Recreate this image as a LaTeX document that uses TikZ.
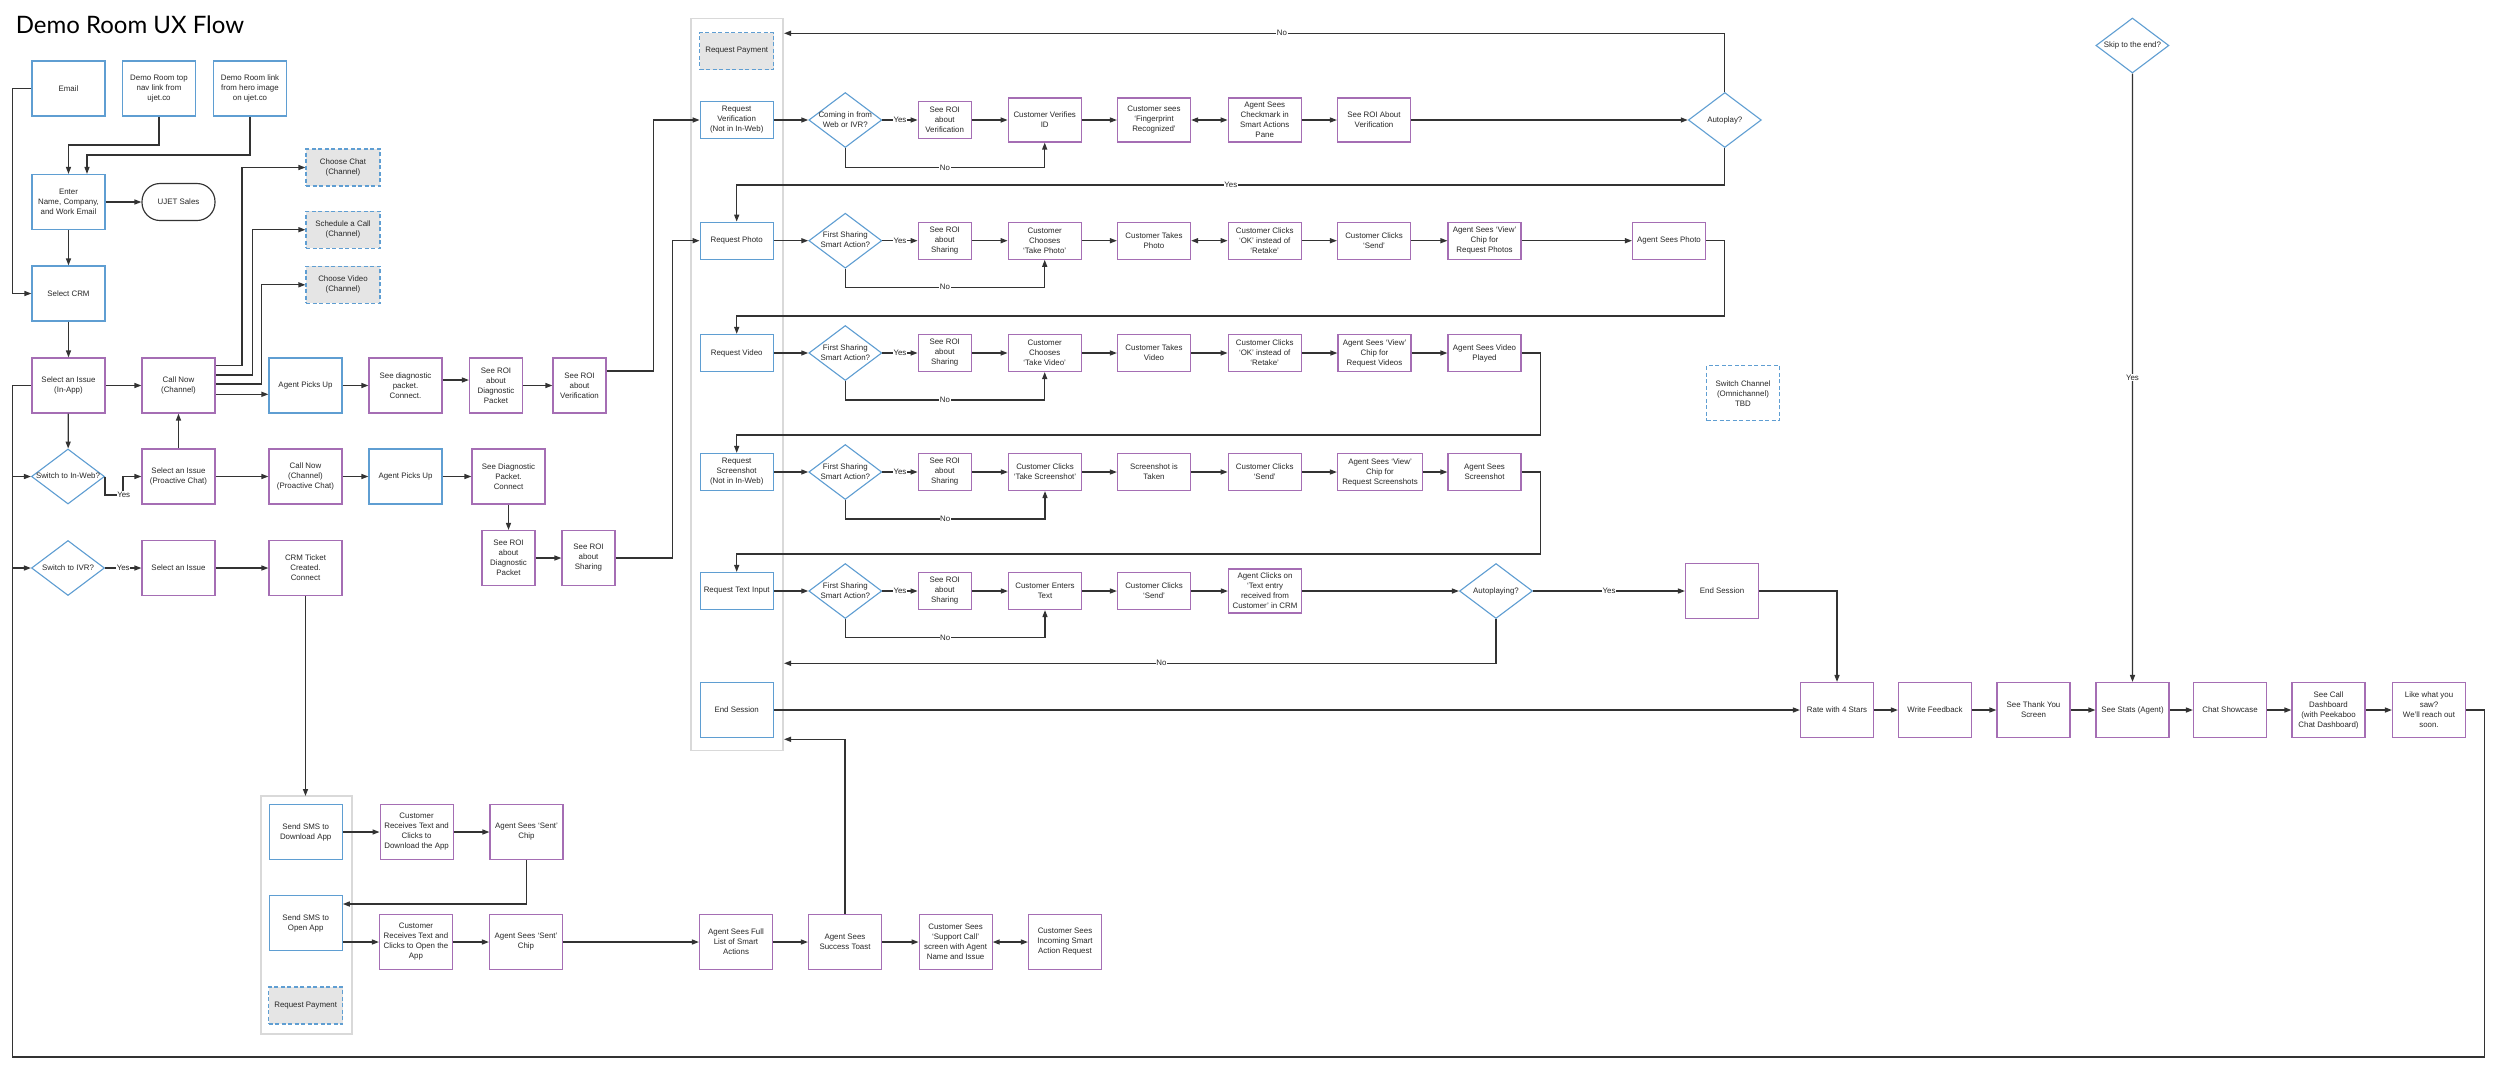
\documentclass[tikz,border=0pt]{standalone}
\usepackage{fontspec}
\setmainfont{Liberation Sans}
\newfontfamily\titlefont{Lato}
\usetikzlibrary{shapes.geometric,arrows.meta,calc}
\definecolor{bl}{RGB}{95,158,210}
\definecolor{pu}{RGB}{165,110,180}
\definecolor{gr}{RGB}{229,229,229}
\definecolor{lanec}{RGB}{217,217,217}
\definecolor{ln}{RGB}{51,51,51}
\definecolor{txt}{RGB}{40,40,40}
\newcommand{\mydtext}[1]{\makebox[0pt]{\begin{tabular}{@{}c@{}}#1\end{tabular}}}
\newcommand{\myfs}{\fontsize{7.9}{10}\selectfont}
\tikzset{
 boxbase/.style={rectangle, line width=1.15pt, fill=white, align=center, inner sep=1pt,
   minimum width=73pt, minimum height=55pt, text=txt, font=\myfs},
 bbox/.style={boxbase, draw=bl},
 pbox/.style={boxbase, draw=pu},
 dbox/.style={boxbase, draw=bl, fill=gr, dash pattern=on 4pt off 2.5pt, minimum width=74pt, minimum height=37pt},
 dboxw/.style={dbox, fill=white, minimum width=73pt, minimum height=55pt},
 stad/.style={boxbase, draw=ln, rounded corners=18pt, minimum height=37pt},
 diam/.style={diamond, draw=bl, line width=1.1pt, fill=white, minimum width=73pt, minimum height=55pt,
   inner sep=0pt, text=txt, font=\myfs},
 lane/.style={draw=lanec, line width=1.2pt},
 lineonly/.style={draw=ln, line width=1.3pt},
 conn/.style={lineonly, -{Triangle[length=7pt,width=5pt]}},
 dconn/.style={lineonly, {Triangle[length=7pt,width=5pt]}-{Triangle[length=7pt,width=5pt]}},
 lab/.style={fill=white, inner sep=0.6pt, text=txt, font=\myfs},
}
\begin{document}
\begin{tikzpicture}[x=1pt,y=-1pt]
\fill[white] (0,0) rectangle (2500,1080);
\useasboundingbox (0,0) rectangle (2500,1080);

% title
\node[anchor=base west, inner sep=0pt, font=\titlefont\fontsize{24}{28}\selectfont, text=black] (title) at (15.6,33) {Demo Room UX Flow};

% lanes
\draw[lane] (691,18.3) rectangle (783,750.7);
\draw[lane] (261,796) rectangle (352,1034);

% ---------- left region ----------
\node[bbox] (email) at (68.5,88.5) {Email};
\node[bbox] (nav) at (159,88.5) {Demo Room top\\nav link from\\ujet.co};
\node[bbox] (hero) at (250,88.5) {Demo Room link\\from hero image\\on ujet.co};
\node[bbox] (enter) at (68.5,202) {Enter\\Name, Company,\\and Work Email};
\node[stad] (sales) at (178.5,202) {UJET Sales};
\node[bbox] (crm) at (68.5,293.5) {Select CRM};
\node[dbox] (chat) at (343,167.5) {Choose Chat\\(Channel)};
\node[dbox] (sched) at (343,229.7) {Schedule a Call\\(Channel)};
\node[dbox] (video) at (343,284.8) {Choose Video\\(Channel)};
\node[pbox] (issue) at (68.5,385.5) {Select an Issue\\(In-App)};
\node[pbox] (callnow) at (178.5,385.5) {Call Now\\(Channel)};
\node[bbox] (agent1) at (305.5,385.5) {Agent Picks Up};
\node[pbox] (diag1) at (405.5,385.5) {See diagnostic\\packet.\\Connect.};
\node[pbox, minimum width=53pt] (roid1) at (496,385.5) {See ROI\\about\\Diagnostic\\Packet};
\node[pbox, minimum width=53pt] (roiv1) at (579.5,385.5) {See ROI\\about\\Verification};
\node[diam] (sw1) at (68,476.5) {\mydtext{Switch to In-Web?}};
\node[pbox] (issuep) at (178.5,476.5) {Select an Issue\\(Proactive Chat)};
\node[pbox] (callp) at (305.5,476.5) {Call Now\\(Channel)\\(Proactive Chat)};
\node[bbox] (agent2) at (405.5,476.5) {Agent Picks Up};
\node[pbox] (diag2) at (508.5,476.5) {See Diagnostic\\Packet.\\Connect};
\node[pbox, minimum width=53pt] (roid2) at (508.5,558) {See ROI\\about\\Diagnostic\\Packet};
\node[pbox, minimum width=53pt] (rois2) at (588.5,558) {See ROI\\about\\Sharing};
\node[diam] (sw2) at (68,568) {\mydtext{Switch to IVR?}};
\node[pbox] (issue3) at (178.5,568) {Select an Issue};
\node[pbox] (ticket) at (305.5,568) {CRM Ticket\\Created.\\Connect};

% ---------- bottom group ----------
\node[bbox] (smsdl) at (305.7,832) {Send SMS to\\Download App};
\node[pbox] (recdl) at (416.6,832) {Customer\\Receives Text and\\Clicks to\\Download the App};
\node[pbox] (sent1) at (526.5,832) {Agent Sees `Sent'\\Chip};
\node[bbox] (smsop) at (305.7,923.3) {Send SMS to\\Open App};
\node[pbox] (recop) at (416,942) {Customer\\Receives Text and\\Clicks to Open the\\App};
\node[pbox] (sent2) at (526,942) {Agent Sees `Sent'\\Chip};
\node[dbox] (pay2) at (305.7,1005.5) {Request Payment};
\node[pbox] (fulllist) at (736,942) {Agent Sees Full\\List of Smart\\Actions};
\node[pbox] (toast) at (845,942) {Agent Sees\\Success Toast};
\node[pbox] (support) at (955.6,942) {Customer Sees\\`Support Call'\\screen with Agent\\Name and Issue};
\node[pbox] (incoming) at (1065,942) {Customer Sees\\Incoming Smart\\Action Request};

% ---------- column ----------
\node[dbox] (pay1) at (736.7,51) {Request Payment};
\node[bbox, minimum height=37pt] (rverif) at (736.7,120) {Request\\Verification\\(Not in In-Web)};
\node[bbox, minimum height=37pt] (rphoto) at (736.7,240.7) {Request Photo};
\node[bbox, minimum height=37pt] (rvideo) at (736.7,353) {Request Video};
\node[bbox, minimum height=37pt] (rshot) at (736.7,472) {Request\\Screenshot\\(Not in In-Web)};
\node[bbox, minimum height=37pt] (rtext) at (736.7,591) {Request Text Input};
\node[bbox] (endcol) at (736.7,710) {End Session};

% row verification
\node[diam] (dv) at (845.3,120) {\mydtext{Coming in from\\Web or IVR?}};
\node[pbox, minimum width=53pt, minimum height=37pt] (roiv) at (944.7,120) {See ROI\\about\\Verification};
\node[pbox, minimum height=44pt] (custid) at (1044.7,120) {Customer Verifies\\ID};
\node[pbox, minimum height=44pt] (finger) at (1154,120) {Customer sees\\`Fingerprint\\Recognized'};
\node[pbox, minimum height=44pt] (check) at (1264.7,120) {Agent Sees\\Checkmark in\\Smart Actions\\Pane};
\node[pbox, minimum height=44pt] (roiabout) at (1374,120) {See ROI About\\Verification};
\node[diam] (autoplay) at (1724.8,120) {\mydtext{Autoplay?}};

% row photo
\node[diam] (dp) at (845.3,240.7) {\mydtext{First Sharing\\Smart Action?}};
\node[pbox, minimum width=53pt, minimum height=37pt] (roip) at (944.7,240.7) {See ROI\\about\\Sharing};
\node[pbox, minimum height=37pt] (chp) at (1044.7,240.7) {Customer\\Chooses\\`Take Photo'};
\node[pbox, minimum height=37pt] (takep) at (1154,240.7) {Customer Takes\\Photo};
\node[pbox, minimum height=37pt] (okp) at (1264.7,240.7) {Customer Clicks\\`OK' instead of\\`Retake'};
\node[pbox, minimum height=37pt] (sendp) at (1374,240.7) {Customer Clicks\\`Send'};
\node[pbox, minimum height=37pt] (viewp) at (1484.5,240.7) {Agent Sees `View'\\Chip for\\Request Photos};
\node[pbox, minimum height=37pt] (seep) at (1669,240.7) {Agent Sees Photo};

% row video
\node[diam] (dvi) at (845.3,353) {\mydtext{First Sharing\\Smart Action?}};
\node[pbox, minimum width=53pt, minimum height=37pt] (roivi) at (944.7,353) {See ROI\\about\\Sharing};
\node[pbox, minimum height=37pt] (chv) at (1044.7,353) {Customer\\Chooses\\`Take Video'};
\node[pbox, minimum height=37pt] (takev) at (1154,353) {Customer Takes\\Video};
\node[pbox, minimum height=37pt] (okv) at (1264.7,353) {Customer Clicks\\`OK' instead of\\`Retake'};
\node[pbox, minimum height=37pt] (viewv) at (1374.5,353) {Agent Sees `View'\\Chip for\\Request Videos};
\node[pbox, minimum height=37pt] (playv) at (1484.5,353) {Agent Sees Video\\Played};

% row screenshot
\node[diam] (ds) at (845.3,472) {\mydtext{First Sharing\\Smart Action?}};
\node[pbox, minimum width=53pt, minimum height=37pt] (rois) at (944.7,472) {See ROI\\about\\Sharing};
\node[pbox, minimum height=37pt] (takes) at (1045,472) {Customer Clicks\\`Take Screenshot'};
\node[pbox, minimum height=37pt] (taken) at (1154,472) {Screenshot is\\Taken};
\node[pbox, minimum height=37pt] (sends) at (1264.7,472) {Customer Clicks\\`Send'};
\node[pbox, minimum width=85pt, minimum height=37pt] (views) at (1380,472) {Agent Sees `View'\\Chip for\\Request Screenshots};
\node[pbox, minimum height=37pt] (seess) at (1484.5,472) {Agent Sees\\Screenshot};

% row text
\node[diam] (dt) at (845.3,591) {\mydtext{First Sharing\\Smart Action?}};
\node[pbox, minimum width=53pt, minimum height=37pt] (roit) at (944.7,591) {See ROI\\about\\Sharing};
\node[pbox, minimum height=37pt] (entert) at (1045,591) {Customer Enters\\Text};
\node[pbox, minimum height=37pt] (sendt) at (1154,591) {Customer Clicks\\`Send'};
\node[pbox, minimum height=44pt] (agentt) at (1265,591) {Agent Clicks on\\`Text entry\\received from\\Customer' in CRM};
\node[diam] (autoplaying) at (1496,591) {\mydtext{Autoplaying?}};
\node[pbox] (endr) at (1722,591) {End Session};

% right side
\node[dboxw] (switchch) at (1743,393.3) {Switch Channel\\(Omnichannel)\\TBD};
\node[diam] (skip) at (2132.4,45.5) {\mydtext{Skip to the end?}};

% final row
\node[pbox] (rate) at (1837,710) {Rate with 4 Stars};
\node[pbox] (feedback) at (1935,710) {Write Feedback};
\node[pbox] (thanks) at (2033.5,710) {See Thank You\\Screen};
\node[pbox] (stats) at (2132.5,710) {See Stats (Agent)};
\node[pbox] (showcase) at (2230,710) {Chat Showcase};
\node[pbox] (dash) at (2328.5,710) {See Call\\Dashboard\\(with Peekaboo\\Chat Dashboard)};
\node[pbox] (like) at (2429,710) {Like what you\\saw?\\We'll reach out\\soon.};

% coordinates
\coordinate (eL) at (12.5,88.5);
\coordinate (loopA) at (2484.5,710);
\coordinate (loopB) at (2484.5,1057);
\coordinate (loopC) at (12.5,1057);
\coordinate (loopD) at (12.5,385.5);
\coordinate (jn1) at (12.5,476.5);
\coordinate (jn2) at (12.5,568);
\coordinate (grouptop) at (305.5,796);
\coordinate (toastend) at (784,739.3);
\coordinate (noTop) at (784,33.3);
\coordinate (noMid) at (784,663.3);

% ---------- connectors: left ----------
\draw[conn] (email.west) -- (eL) |- (crm.west);
\draw[conn] (nav.south) -- (159,145) -| (enter.north);
\draw[conn] (hero.south) -- (250,155) -| ($(enter.north)+(18.5,0)$);
\draw[conn] (enter) -- (sales);
\draw[conn] (enter) -- (crm);
\draw[conn] (crm) -- (issue);
\draw[conn] (issue) -- (callnow);
\draw[conn] ($(callnow.east)+(0,-19.8)$) -- ++(26.5,0) |- (chat.west);
\draw[conn] ($(callnow.east)+(0,-10.5)$) -- ++(37,0) |- (sched.west);
\draw[conn] ($(callnow.east)+(0,-1.5)$) -- ++(46,0) |- (video.west);
\draw[conn] ($(callnow.east)+(0,8.8)$) -- ($(agent1.west)+(0,8.8)$);
\draw[conn] (agent1) -- (diag1);
\draw[conn] ($(diag1.east)+(0,-5.5)$) -- ($(roid1.west)+(0,-5.5)$);
\draw[conn] (roid1) -- (roiv1);
\draw[conn] ($(roiv1.east)+(0,-14.5)$) -- ++(47,0) |- (rverif.west);
\draw[lineonly] (like.east) -- (loopA) -- (loopB) -- (loopC) -- (loopD) -- (issue.west);
\draw[conn] (jn1) -- (sw1.west);
\draw[conn] (jn2) -- (sw2.west);
\draw[conn] (issue) -- (sw1);
\draw[conn] (sw1.east) -- ++(0,18.5) -| ($(issuep.west)+(-18.3,0)$) -- (issuep.west);
\node[lab] (ylab1) at (123.7,494.5) {Yes};
\draw[conn] (issuep) -- (callnow);
\draw[conn] (issuep) -- (callp);
\draw[conn] (callp) -- (agent2);
\draw[conn] (agent2) -- (diag2);
\draw[conn] (diag2) -- (roid2);
\draw[conn] (roid2) -- (rois2);
\draw[conn] (rois2.east) -- ++(57,0) |- (rphoto.west);
\draw[conn] (sw2) -- node[lab] (ylab2) {Yes} (issue3);
\draw[conn] (issue3) -- (ticket);
\draw[conn] (ticket.south) -- (grouptop);

% ---------- bottom ----------
\draw[conn] (smsdl) -- (recdl);
\draw[conn] (recdl) -- (sent1);
\draw[conn] (sent1.south) |- ($(smsop.east)+(0,-19.3)$);
\draw[conn] ($(smsop.east)+(0,18.7)$) -- (recop.west);
\draw[conn] (recop) -- (sent2);
\draw[conn] (sent2) -- (fulllist);
\draw[conn] (fulllist) -- (toast);
\draw[conn] (toast) -- (support);
\draw[dconn] (support) -- (incoming);
\draw[conn] (toast.north) |- (toastend);

% ---------- column rows ----------
% verification
\draw[conn] (rverif) -- (dv);
\draw[conn] (dv) -- node[lab] (yv) {Yes} (roiv);
\draw[conn] (roiv) -- (custid);
\draw[conn] (custid) -- (finger);
\draw[dconn] (finger) -- (check);
\draw[conn] (check) -- (roiabout);
\draw[conn] (roiabout) -- (autoplay);
\draw[conn] (dv.south) -- ++(0,19.5) -| node[lab, pos=0.25] (nv) {No} (custid.south);
\draw[conn] (autoplay.south) -- ++(0,37) -| node[lab, pos=0.25] (ya) {Yes} (rphoto.north);
\draw[conn] (autoplay.north) |- (noTop);
\node[lab] (na) at (1282,33.3) {No};
% photo
\draw[conn] (rphoto) -- (dp);
\draw[conn] (dp) -- node[lab] (yp) {Yes} (roip);
\draw[conn] (roip) -- (chp);
\draw[conn] (chp) -- (takep);
\draw[dconn] (takep) -- (okp);
\draw[conn] (okp) -- (sendp);
\draw[conn] (sendp) -- (viewp);
\draw[conn] (viewp) -- (seep);
\draw[conn] (dp.south) -- ++(0,18.5) -| node[lab, pos=0.25] (np) {No} (chp.south);
\draw[conn] (seep.east) -- ++(18.5,0) -- ++(0,75.3) -| (rvideo.north);
% video
\draw[conn] (rvideo) -- (dvi);
\draw[conn] (dvi) -- node[lab] (yvi) {Yes} (roivi);
\draw[conn] (roivi) -- (chv);
\draw[conn] (chv) -- (takev);
\draw[conn] (takev) -- (okv);
\draw[conn] (okv) -- (viewv);
\draw[conn] (viewv) -- (playv);
\draw[conn] (dvi.south) -- ++(0,18.8) -| node[lab, pos=0.25] (nvi) {No} (chv.south);
\draw[conn] (playv.east) -- ++(19,0) -- ++(0,82) -| (rshot.north);
% screenshot
\draw[conn] (rshot) -- (ds);
\draw[conn] (ds) -- node[lab] (ys) {Yes} (rois);
\draw[conn] (rois) -- (takes);
\draw[conn] (takes) -- (taken);
\draw[conn] (taken) -- (sends);
\draw[conn] (sends) -- (views);
\draw[conn] (views) -- (seess);
\draw[conn] (ds.south) -- ++(0,18.8) -| node[lab, pos=0.25] (ns) {No} (takes.south);
\draw[conn] (seess.east) -- ++(19,0) -- ++(0,82) -| (rtext.north);
% text
\draw[conn] (rtext) -- (dt);
\draw[conn] (dt) -- node[lab] (yt) {Yes} (roit);
\draw[conn] (roit) -- (entert);
\draw[conn] (entert) -- (sendt);
\draw[conn] (sendt) -- (agentt);
\draw[conn] (agentt) -- (autoplaying);
\draw[conn] (dt.south) -- ++(0,18.5) -| node[lab, pos=0.25] (nt) {No} (entert.south);
\draw[conn] (autoplaying) -- node[lab] (yap) {Yes} (endr);
\draw[conn] (autoplaying.south) |- (noMid);
\node[lab] (nap) at (1161.5,663.3) {No};
\draw[conn] (endr.east) -| (rate.north);
\draw[conn] (endcol) -- (rate);

% final row
\draw[conn] (rate) -- (feedback);
\draw[conn] (feedback) -- (thanks);
\draw[conn] (thanks) -- (stats);
\draw[conn] (stats) -- (showcase);
\draw[conn] (showcase) -- (dash);
\draw[conn] (dash) -- (like);
\draw[conn] (skip) -- node[lab] (ysk) {Yes} (stats);
\end{tikzpicture}
\end{document}
